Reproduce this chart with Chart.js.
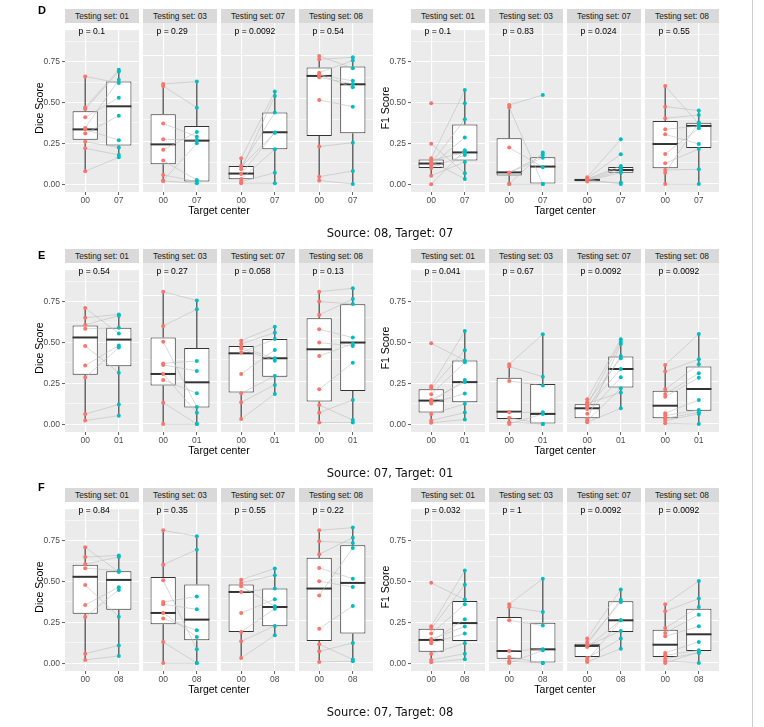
<!DOCTYPE html>
<html><head><meta charset="utf-8">
<script src="https://cdn.jsdelivr.net/npm/chart.js@4.4.0/dist/chart.umd.min.js"></script>
<style>
body{margin:0;background:#fff;width:764px;height:727px;position:relative;overflow:hidden;font-family:'Liberation Sans',Arial,sans-serif;}
.strip{position:absolute;background:#D9D9D9;color:#1A1A1A;font-size:8.4px;text-align:center;line-height:14px;height:14px;width:74px;white-space:nowrap}
.pval{position:absolute;font-size:8.6px;color:#000;line-height:10px;white-space:nowrap}
.title{position:absolute;font-size:10.5px;color:#000;white-space:nowrap;transform:translate(-50%,-50%)}
.ytitle{position:absolute;font-size:10.5px;color:#000;white-space:nowrap;transform:translate(-50%,-50%) rotate(-90deg)}
.letter{position:absolute;font-size:11px;font-weight:bold;color:#000;transform:translateY(-50%)}
.caption{position:absolute;font-family:'DejaVu Sans',sans-serif;font-size:11.5px;color:#111;white-space:nowrap;transform:translate(-50%,-50%)}
.edge{position:absolute;left:752px;top:0;width:1px;height:727px;background:#cfcfcf}
canvas{position:absolute}
</style>
</head><body>
<div class="edge"></div>
<script>
// ---------- DATA ----------
const testingSets = ['01', '03', '07', '08'];
const yTickValues = [0, 0.25, 0.5, 0.75];
const yTickLabels = ['0.00', '0.25', '0.50', '0.75'];
const rowLetters = ['D', 'E', 'F'];
const rowTargets = ['07', '01', '08'];
const rowCaptions = ['Source: 08, Target: 07', 'Source: 07, Target: 01', 'Source: 07, Target: 08'];

// Row D (source 08, target 07) - Dice
const dDice00 = [
  [0.66, 0.47, 0.46, 0.41, 0.345, 0.335, 0.31, 0.26, 0.22, 0.08],
  [0.586, 0.574, 0.355, 0.262, 0.20, 0.137, 0.053, 0.018, 0.02],
  [0.15, 0.107, 0.086, 0.059, 0.029, 0.014, 0.004, 0.10],
  [0.75, 0.73, 0.652, 0.639, 0.625, 0.64, 0.492, 0.219, 0.043, 0.02]
];
const dDiceT = [
  [0.62, 0.70, 0.69, 0.53, 0.64, 0.27, 0.42, 0.225, 0.18, 0.165],
  [0.60, 0.447, 0.277, 0.258, 0.305, 0.023, 0.014, 0.004, 0.238],
  [0.541, 0.418, 0.516, 0.301, 0.203, 0.066, 0.004, 0.30],
  [0.678, 0.742, 0.723, 0.604, 0.586, 0.566, 0.453, 0.242, 0.076, 0.0]
];
const dDiceBox00 = [[0.078, 0.273, 0.336, 0.447, 0.66], [0.018, 0.115, 0.232, 0.408, 0.586], [0.004, 0.027, 0.061, 0.105, 0.15], [0.02, 0.281, 0.633, 0.682, 0.75]];
const dDiceBoxT = [[0.165, 0.238, 0.477, 0.629, 0.70], [0.004, 0.014, 0.254, 0.34, 0.60], [0.004, 0.203, 0.303, 0.418, 0.541], [0.0, 0.297, 0.584, 0.6875, 0.742]];
const dDiceP = ['0.1', '0.29', '0.0092', '0.54'];

// Row D - F1
const dF100 = [
  [0.496, 0.248, 0.16, 0.146, 0.127, 0.115, 0.10, 0.053, 0.0, 0.14],
  [0.463, 0.449, 0.213, 0.066, 0.066, 0.0, 0.0],
  [0.04, 0.033, 0.03, 0.028, 0.023, 0.02, 0.014, 0.025],
  [0.574, 0.453, 0.385, 0.32, 0.291, 0.176, 0.121, 0.082, 0.066, 0.0]
];
const dF1T = [
  [0.496, 0.068, 0.576, 0.195, 0.398, 0.287, 0.18, 0.137, 0.209, 0.033],
  [0.521, 0.0, 0.098, 0.17, 0.154, 0.184, 0.0],
  [0.262, 0.174, 0.105, 0.092, 0.078, 0.066, 0.008, 0.0],
  [0.352, 0.43, 0.404, 0.34, 0.234, 0.326, 0.205, 0.086, 0.36, 0.0]
];
const dF1Box00 = [[0.053, 0.10, 0.127, 0.152, 0.16], [0.0, 0.049, 0.068, 0.268, 0.463], [0.01, 0.016, 0.023, 0.03, 0.04], [0.0, 0.092, 0.234, 0.369, 0.574]];
const dF1BoxT = [[0.033, 0.146, 0.195, 0.365, 0.576], [0.0, 0.0, 0.102, 0.156, 0.184], [0.0, 0.066, 0.082, 0.10, 0.105], [0.0, 0.211, 0.34, 0.359, 0.43]];
const dF1P = ['0.1', '0.83', '0.024', '0.55'];

// Row E (source 07, target 01) - Dice
const eDice00 = [
  [0.711, 0.652, 0.609, 0.584, 0.479, 0.359, 0.287, 0.0625, 0.023],
  [0.775, 0.574, 0.482, 0.355, 0.346, 0.293, 0.258, 0.125, 0.0],
  [0.488, 0.469, 0.449, 0.418, 0.293, 0.18, 0.127, 0.029, 0.44],
  [0.775, 0.717, 0.639, 0.555, 0.477, 0.398, 0.203, 0.111, 0.066, 0.008]
];
const eDiceT = [
  [0.555, 0.672, 0.664, 0.59, 0.316, 0.482, 0.469, 0.121, 0.053],
  [0.723, 0.672, 0.10, 0.369, 0.311, 0.066, 0.18, 0.0, 0.0],
  [0.57, 0.535, 0.385, 0.498, 0.434, 0.281, 0.229, 0.176, 0.371],
  [0.795, 0.703, 0.732, 0.506, 0.457, 0.47, 0.359, 0.023, 0.141, 0.008]
];
const eDiceBox00 = [[0.023, 0.303, 0.531, 0.604, 0.711], [0.0, 0.225, 0.293, 0.506, 0.775], [0.029, 0.184, 0.414, 0.457, 0.488], [0.008, 0.131, 0.4375, 0.619, 0.775]];
const eDiceBoxT = [[0.053, 0.355, 0.518, 0.59, 0.672], [0.0, 0.096, 0.244, 0.445, 0.723], [0.176, 0.277, 0.385, 0.498, 0.57], [0.008, 0.193, 0.477, 0.701, 0.795]];
const eDiceP = ['0.54', '0.27', '0.058', '0.13'];

// Row E - F1
const eF100 = [
  [0.496, 0.232, 0.219, 0.184, 0.15, 0.137, 0.127, 0.0625, 0.023, 0.01],
  [0.35, 0.336, 0.252, 0.068, 0.037, 0.0, 0.01],
  [0.145, 0.127, 0.107, 0.098, 0.088, 0.06, 0.029, 0.018, 0.01, 0.12],
  [0.346, 0.307, 0.203, 0.176, 0.16, 0.0625, 0.049, 0.033, 0.02, 0.004]
];
const eF1T = [
  [0.39, 0.57, 0.453, 0.379, 0.258, 0.271, 0.189, 0.125, 0.072, 0.029],
  [0.525, 0.277, 0.225, 0.068, 0.0, 0.059, 0.0],
  [0.496, 0.385, 0.482, 0.322, 0.398, 0.273, 0.469, 0.209, 0.092, 0.184],
  [0.527, 0.379, 0.35, 0.297, 0.271, 0.141, 0.082, 0.068, 0.059, 0.0]
];
const eF1Box00 = [[0.01, 0.072, 0.145, 0.215, 0.232], [0.0, 0.029, 0.072, 0.271, 0.35], [0.01, 0.033, 0.092, 0.115, 0.145], [0.004, 0.033, 0.107, 0.195, 0.346]];
const eF1BoxT = [[0.029, 0.135, 0.258, 0.39, 0.57], [0.0, 0.0, 0.059, 0.234, 0.525], [0.092, 0.213, 0.322, 0.395, 0.496], [0.0, 0.078, 0.205, 0.336, 0.527]];
const eF1P = ['0.041', '0.67', '0.0092', '0.0092'];

// Row F (source 07, target 08) - Dice
const fDice00 = [
  [0.709, 0.65, 0.607, 0.582, 0.479, 0.357, 0.283, 0.059, 0.021],
  [0.777, 0.576, 0.484, 0.357, 0.344, 0.293, 0.26, 0.123, 0.0],
  [0.488, 0.469, 0.449, 0.416, 0.293, 0.182, 0.127, 0.029],
  [0.777, 0.713, 0.637, 0.557, 0.479, 0.396, 0.201, 0.109, 0.068, 0.006]
];
const fDiceT = [
  [0.559, 0.66, 0.65, 0.566, 0.285, 0.465, 0.449, 0.109, 0.045],
  [0.742, 0.664, 0.08, 0.39, 0.314, 0.152, 0.191, 0.0, 0.0],
  [0.553, 0.514, 0.332, 0.436, 0.373, 0.318, 0.217, 0.162],
  [0.793, 0.703, 0.734, 0.494, 0.445, 0.674, 0.334, 0.021, 0.117, 0.01]
];
const fDiceBox00 = [[0.021, 0.303, 0.529, 0.602, 0.709], [0.0, 0.227, 0.293, 0.504, 0.777], [0.029, 0.182, 0.416, 0.459, 0.488], [0.006, 0.129, 0.436, 0.617, 0.777]];
const fDiceBoxT = [[0.045, 0.328, 0.51, 0.5625, 0.66], [0.0, 0.133, 0.254, 0.459, 0.742], [0.162, 0.215, 0.328, 0.436, 0.553], [0.01, 0.172, 0.469, 0.689, 0.793]];
const fDiceP = ['0.84', '0.35', '0.55', '0.22'];

// Row F - F1
const fF100 = [
  [0.492, 0.227, 0.211, 0.182, 0.148, 0.133, 0.123, 0.059, 0.021, 0.006],
  [0.344, 0.328, 0.25, 0.07, 0.035, 0.0, 0.01],
  [0.143, 0.123, 0.109, 0.094, 0.1, 0.029, 0.016, 0.006],
  [0.344, 0.303, 0.205, 0.176, 0.156, 0.059, 0.045, 0.025, 0.012, 0.0]
];
const fF1T = [
  [0.39, 0.568, 0.48, 0.361, 0.225, 0.27, 0.182, 0.123, 0.059, 0.025],
  [0.494, 0.299, 0.219, 0.08, 0.0, 0.074, 0.0],
  [0.43, 0.357, 0.371, 0.25, 0.188, 0.143, 0.25, 0.084],
  [0.48, 0.377, 0.328, 0.283, 0.215, 0.123, 0.074, 0.059, 0.0, 0.065]
];
const fF1Box00 = [[0.006, 0.07, 0.143, 0.211, 0.227], [0.0, 0.025, 0.07, 0.27, 0.344], [0.006, 0.035, 0.1, 0.113, 0.143], [0.0, 0.035, 0.107, 0.195, 0.344]];
const fF1BoxT = [[0.025, 0.137, 0.246, 0.381, 0.568], [0.0, 0.0, 0.08, 0.236, 0.494], [0.084, 0.182, 0.25, 0.361, 0.43], [0.0, 0.07, 0.168, 0.318, 0.48]];
const fF1P = ['0.032', '1', '0.0092', '0.0092'];

// ---------- LAYOUT / STYLE ----------
const ROW_OFF = [0, 240, 479];
const PANEL_LEFT = [65, 411];
const FACET_W = 74, FACET_STEP = 78, PLOT_TOP = 23, PLOT_H = 169, XAXIS_H = 18, YAXIS_W = 30;
const COL0 = '#F8766D', COL1 = '#00BFC4';

const panels = [
  {row: 0, col: 0, v0: dDice00, v1: dDiceT, b0: dDiceBox00, b1: dDiceBoxT, p: dDiceP, ytitle: 'Dice Score'},
  {row: 0, col: 1, v0: dF100, v1: dF1T, b0: dF1Box00, b1: dF1BoxT, p: dF1P, ytitle: 'F1 Score'},
  {row: 1, col: 0, v0: eDice00, v1: eDiceT, b0: eDiceBox00, b1: eDiceBoxT, p: eDiceP, ytitle: 'Dice Score'},
  {row: 1, col: 1, v0: eF100, v1: eF1T, b0: eF1Box00, b1: eF1BoxT, p: eF1P, ytitle: 'F1 Score'},
  {row: 2, col: 0, v0: fDice00, v1: fDiceT, b0: fDiceBox00, b1: fDiceBoxT, p: fDiceP, ytitle: 'Dice Score'},
  {row: 2, col: 1, v0: fF100, v1: fF1T, b0: fF1Box00, b1: fF1BoxT, p: fF1P, ytitle: 'F1 Score'}
];

Chart.defaults.font.family = "'Liberation Sans', Arial, sans-serif";
Chart.defaults.animation = false;

const bgPlugin = {
  id: 'panelBg',
  beforeDraw(chart) {
    const {ctx, chartArea: a} = chart;
    ctx.save();
    ctx.fillStyle = '#EBEBEB';
    ctx.fillRect(a.left, a.top, a.right - a.left, a.bottom - a.top);
    ctx.restore();
  }
};

function addDiv(cls, text, style) {
  const d = document.createElement('div');
  d.className = cls;
  d.textContent = text;
  Object.assign(d.style, style);
  document.body.appendChild(d);
  return d;
}

function seg(x1, y1, x2, y2, color, w, order) {
  return {type: 'line', data: [{x: x1, y: y1}, {x: x2, y: y2}], borderColor: color, borderWidth: w,
          pointRadius: 0, pointHoverRadius: 0, fill: false, order: order, tension: 0};
}

const yGrid = [];
yTickValues.forEach((v, i) => { yGrid.push(v); if (i < yTickValues.length - 1) yGrid.push((v + yTickValues[i + 1]) / 2); });
yGrid.push(yTickValues[yTickValues.length - 1] + (yTickValues[1] - yTickValues[0]) / 2);
const isMajor = v => yTickValues.some(t => Math.abs(t - v) < 1e-9);

function makeFacet(pn, fi) {
  const off = ROW_OFF[pn.row];
  const fl = PANEL_LEFT[pn.col] + fi * FACET_STEP;
  const first = fi === 0;
  const yw = first ? YAXIS_W : 0;
  const xLabels = ['00', rowTargets[pn.row]];

  addDiv('strip', 'Testing set: ' + testingSets[fi], {left: fl + 'px', top: (9 + off) + 'px'});

  const cv = document.createElement('canvas');
  cv.width = FACET_W + yw; cv.height = PLOT_H + XAXIS_H;
  cv.style.left = (fl - yw) + 'px'; cv.style.top = (PLOT_TOP + off) + 'px';
  cv.style.width = cv.width + 'px'; cv.style.height = cv.height + 'px';
  document.body.appendChild(cv);

  const v0 = pn.v0[fi], v1 = pn.v1[fi], b0 = pn.b0[fi], b1 = pn.b1[fi];
  const ds = [];
  // box bodies
  ds.push({type: 'bar', data: [{x: 1, y: [b0[1], b0[3]]}, {x: 2, y: [b1[1], b1[3]]}],
           backgroundColor: '#FFFFFF', borderColor: '#333333', borderWidth: 1, borderSkipped: false,
           barPercentage: 1, categoryPercentage: 0.75, order: 10});
  // whiskers and medians
  [[1, b0], [2, b1]].forEach(([x, b]) => {
    ds.push(seg(x, b[0], x, b[1], '#333333', 1.1, 11));
    ds.push(seg(x, b[3], x, b[4], '#333333', 1.1, 11));
    ds.push(seg(x - 0.375, b[2], x + 0.375, b[2], '#333333', 2, 9));
  });
  // paired lines
  const n = Math.min(v0.length, v1.length);
  for (let i = 0; i < n; i++) ds.push(seg(1, v0[i], 2, v1[i], '#BDBDBD', 0.6, 5));
  // points
  ds.push({type: 'scatter', data: v0.map(v => ({x: 1, y: v})), backgroundColor: COL0, borderWidth: 0, pointRadius: 2, order: 2});
  ds.push({type: 'scatter', data: v1.map(v => ({x: 2, y: v})), backgroundColor: COL1, borderWidth: 0, pointRadius: 2, order: 1});

  new Chart(cv, {
    type: 'scatter',
    data: {datasets: ds},
    plugins: [bgPlugin],
    options: {
      responsive: false, devicePixelRatio: 1, animation: false,
      layout: {padding: 0, autoPadding: false},
      plugins: {legend: {display: false}, tooltip: {enabled: false}},
      scales: {
        x: {
          type: 'linear', min: 0.4, max: 2.6, offset: false,
          afterBuildTicks: s => { s.ticks = [{value: 1}, {value: 2}]; },
          afterFit: s => { s.height = XAXIS_H; },
          ticks: {callback: v => xLabels[v - 1], color: '#4D4D4D', font: {size: 8.5}, padding: 1, maxRotation: 0, autoSkip: false},
          grid: {color: '#FFFFFF', lineWidth: 1.1, offset: false, drawTicks: true, tickLength: 3, tickColor: '#333333', tickWidth: 0.8},
          border: {display: false}
        },
        y: {
          type: 'linear', min: -0.047, max: 0.943,
          afterBuildTicks: s => { s.ticks = yGrid.map(v => ({value: v})); },
          afterFit: s => { s.width = yw; },
          ticks: {display: first, callback: v => { const k = yTickValues.findIndex(t => Math.abs(t - v) < 1e-9); return k >= 0 ? yTickLabels[k] : ''; },
                  color: '#4D4D4D', font: {size: 8.5}, padding: 2, autoSkip: false},
          grid: {color: '#FFFFFF', lineWidth: c => isMajor(c.tick.value) ? 1.1 : 0.55, drawTicks: first, tickLength: 3,
                 tickColor: c => isMajor(c.tick.value) ? '#333333' : 'rgba(0,0,0,0)', tickWidth: 0.8},
          border: {display: false}
        }
      }
    }
  });

  addDiv('pval', 'p = ' + pn.p[fi], {left: (fl + 13.5) + 'px', top: (26 + off) + 'px'});
}

panels.forEach(pn => {
  for (let fi = 0; fi < 4; fi++) makeFacet(pn, fi);
  const off = ROW_OFF[pn.row];
  const pl = PANEL_LEFT[pn.col];
  addDiv('ytitle', pn.ytitle, {left: (pl - 26) + 'px', top: (PLOT_TOP + off + PLOT_H / 2) + 'px'});
  addDiv('title', 'Target center', {left: (pl + (3 * FACET_STEP + FACET_W) / 2) + 'px', top: (210 + off) + 'px'});
});

const letterY = [10, 255, 487];
const captionY = [233, 473, 712];
rowLetters.forEach((L, r) => {
  addDiv('letter', L, {left: '38px', top: letterY[r] + 'px'});
  addDiv('caption', rowCaptions[r], {left: '390px', top: captionY[r] + 'px'});
});
</script>
</body></html>
